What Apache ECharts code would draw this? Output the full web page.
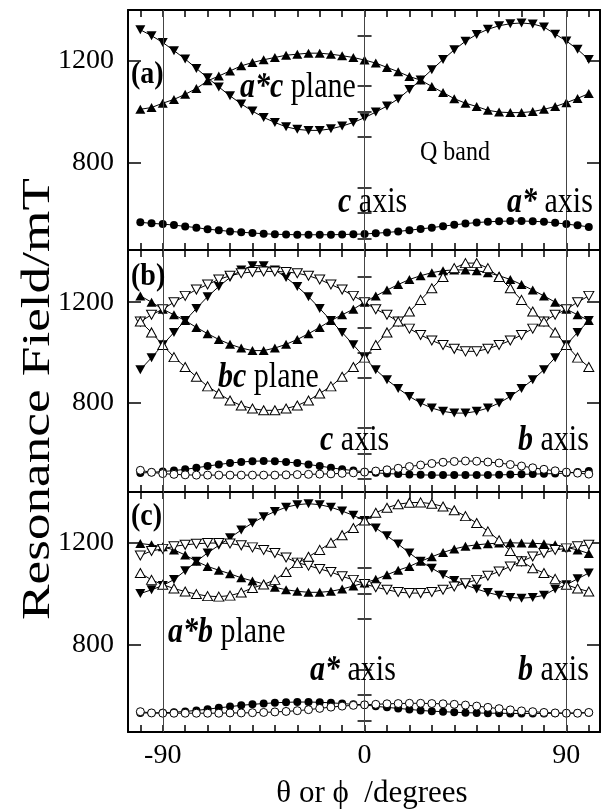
<!DOCTYPE html>
<html>
<head>
<meta charset="utf-8">
<script src="https://cdn.jsdelivr.net/npm/echarts@6/dist/echarts.min.js"></script>
<style>
html,body{margin:0;padding:0;background:#fff;}
#main{width:601px;height:811px;}
</style>
</head>
<body>
<div id="main"></div>
<script>
// rotation angle (degrees), one reading every 5 degrees
var angles = [-100,-95,-90,-85,-80,-75,-70,-65,-60,-55,-50,-45,-40,-35,-30,-25,-20,-15,-10,-5,0,
              5,10,15,20,25,30,35,40,45,50,55,60,65,70,75,80,85,90,95,100];

// (a) a*c plane
var aDown = [1322,1299,1272,1240,1207,1170,1133,1097,1062,1030,1002,977,957,940,930,926,926,932,943,957,976,
             998,1022,1050,1087,1124,1165,1205,1243,1277,1304,1324,1338,1346,1349,1345,1333,1305,1278,1245,1205];
var aUp = [1009,1016,1033,1048,1068,1091,1121,1140,1160,1180,1193,1204,1213,1222,1226,1230,1230,1226,1220,1213,1203,
           1191,1174,1157,1138,1124,1099,1075,1051,1033,1020,1005,998,996,996,1000,1009,1020,1035,1052,1071];
var aDot = [564,560,557,553,548,543,537,533,528,525,522,519,517,516,515,515,515,515,516,517,518,
            521,524,528,533,538,543,549,554,559,563,566,568,569,569,568,566,562,557,552,546];

// (b) bc plane
var bDown = [932,980,1031,1080,1127,1175,1222,1262,1298,1328,1345,1345,1328,1298,1262,1222,1175,1127,1080,1031,980,
             932,892,858,826,800,780,767,760,760,767,780,800,826,858,892,932,980,1031,1080,1127];
var bUp = [1225,1200,1172,1150,1127,1100,1075,1052,1033,1018,1008,1008,1018,1033,1052,1075,1100,1127,1150,1172,1200,
           1225,1248,1270,1290,1305,1317,1325,1328,1328,1325,1317,1305,1290,1270,1248,1225,1200,1172,1150,1127];
var bDownOpen = [1123,1150,1172,1200,1225,1250,1270,1290,1305,1315,1320,1322,1322,1320,1315,1305,1290,1270,1250,1225,1200,
                 1172,1150,1123,1095,1070,1048,1030,1015,1005,1005,1015,1030,1048,1070,1095,1123,1150,1172,1200,1225];
var bUpOpen = [1123,1080,1030,982,943,904,866,838,810,790,778,771,771,778,790,810,838,866,904,943,980,
               1030,1080,1123,1163,1209,1255,1300,1335,1355,1355,1335,1300,1255,1209,1163,1123,1080,1030,980,943];
var bDot = [522,525,528,532,537,543,550,556,562,566,569,570,569,566,562,556,550,543,537,532,527,
            523,520,518,516,515,514,514,514,514,514,514,515,516,517,518,519,520,522,526,530];
var bRing = [533,525,520,517,515,514,514,514,514,514,514,514,514,515,516,517,518,519,521,523,526,
             530,535,541,548,554,560,565,568,570,569,566,562,556,550,543,537,531,526,522,518];

// (c) a*b plane
var cDown = [1000,1015,1032,1055,1090,1127,1160,1190,1220,1250,1278,1303,1323,1340,1350,1354,1350,1340,1325,1308,1288,
             1258,1228,1195,1160,1127,1100,1074,1052,1034,1018,1004,993,985,982,985,993,1018,1035,1058,1081];
var cUp = [1197,1192,1184,1172,1152,1127,1107,1092,1078,1062,1050,1038,1025,1015,1009,1005,1005,1009,1018,1030,1042,
           1056,1074,1092,1107,1127,1145,1162,1176,1186,1192,1196,1199,1200,1199,1198,1196,1192,1182,1172,1158];
var cDownOpen = [1150,1168,1176,1186,1192,1196,1199,1199,1197,1190,1182,1172,1160,1142,1122,1110,1097,1085,1068,1054,1038,
                 1025,1015,1006,1002,1002,1006,1015,1028,1041,1054,1070,1087,1107,1127,1146,1160,1172,1178,1186,1192];
var cUpOpen = [1081,1054,1035,1020,1008,998,990,988,992,1004,1022,1036,1054,1085,1120,1145,1172,1200,1230,1258,1288,
               1318,1338,1352,1358,1359,1354,1343,1328,1305,1278,1245,1210,1168,1127,1100,1081,1058,1035,1020,1008];
var cDot = [530,530,531,533,536,540,545,550,555,560,564,567,570,572,573,573,572,570,567,564,562,
            556,552,548,544,540,537,535,533,531,530,529,529,528,528,528,528,529,529,530,531];
var cRing = [535,530,529,529,529,529,529,529,530,530,531,532,534,536,539,543,548,553,557,560,562,
             564,566,567,568,568,567,566,564,561,557,552,547,542,538,535,532,530,529,529,532];

// axis ticks and labels
var xTicks = [-100,-90,-80,-70,-60,-50,-40,-30,-20,-10,0,10,20,30,40,50,60,70,80,90,100];
var xLabels = [-90,0,90];
var guideAngles = [-90,0,90];
var yMajor = [800,1200];
var yMinor = [500,600,700,900,1000,1100,1300];

var FONT = 'Liberation Serif';
var STRETCH = 1.16;   // the scanned figure is a bit taller than it is wide
var panels = [
  {top:10,  height:240, min:455, max:1400},
  {top:250, height:242, min:447, max:1407},
  {top:492, height:240, min:455, max:1400}
];

var grids = [], xAxes = [], yAxes = [], series = [];

panels.forEach(function(p, i){
  grids.push({left:128, width:472, top:p.top, height:p.height, outerBoundsMode:'none'});
  ['bottom','top'].forEach(function(pos){
    var isTitleAxis = (i === 2 && pos === 'bottom');
    xAxes.push({
      gridIndex:i, type:'value', position:pos, min:-105.5, max:105,
      axisLine:{show:true, onZero:false, lineStyle:{color:'#000', width:2}},
      axisTick:{show:true, inside:true, length:7, customValues:xTicks, lineStyle:{color:'#000', width:1.5}},
      axisLabel:{show:isTitleAxis, customValues:xLabels, fontFamily:FONT, fontSize:28, color:'#000', margin:10,
                 formatter:function(v){ return String(v); }},
      splitLine:{show:false},
      name: isTitleAxis ? 'θ or ϕ  /degrees' : '',
      nameLocation:'middle', nameGap:46,
      nameTextStyle:{fontFamily:FONT + ', DejaVu Serif', fontSize:31, color:'#000', padding:[0,0,0,16]}
    });
  });
  ['left','right'].forEach(function(pos){
    yAxes.push({
      gridIndex:i, type:'value', position:pos, min:p.min, max:p.max,
      axisLine:{show:true, onZero:false, lineStyle:{color:'#000', width:2}},
      axisTick:{show:true, inside:true, length:13, customValues:yMajor, lineStyle:{color:'#000', width:1.5}},
      axisLabel:{show:pos === 'left', customValues:yMajor, fontFamily:FONT, fontSize:28, color:'#000', margin:14,
                 formatter:function(v){ return String(v); }},
      splitLine:{show:false}
    });
    yAxes.push({
      gridIndex:i, type:'value', position:pos, min:p.min, max:p.max,
      axisLine:{show:false},
      axisTick:{show:true, inside:true, length:7, customValues:yMinor, lineStyle:{color:'#000', width:1.5}},
      axisLabel:{show:false}, splitLine:{show:false}
    });
  });
});

function pts(vals){
  return angles.map(function(a, k){ return [a, vals[k]]; });
}

function mk(gi, vals, shape, filled, down){
  return {
    type:'line', xAxisIndex:gi*2, yAxisIndex:gi*4, data:pts(vals),
    symbol:shape, symbolSize: shape === 'circle' ? 8 : [10,9], symbolRotate: down ? 180 : 0,
    showAllSymbol:true,
    lineStyle:{color:'#000', width:1},
    itemStyle:{color: filled ? '#000' : '#fff', borderColor:'#000', borderWidth: filled ? 0 : 1},
    z:3
  };
}

var guides = {
  silent:true, symbol:'none', label:{show:false},
  lineStyle:{color:'#444', width:1, type:'solid'},
  data: guideAngles.map(function(v){ return {xAxis:v}; })
};

series.push(mk(0, aDown, 'triangle', true, true));
series.push(mk(0, aUp, 'triangle', true, false));
series.push(mk(0, aDot, 'circle', true, false));

series.push(mk(1, bDown, 'triangle', true, true));
series.push(mk(1, bUp, 'triangle', true, false));
series.push(mk(1, bDownOpen, 'triangle', false, true));
series.push(mk(1, bUpOpen, 'triangle', false, false));
series.push(mk(1, bDot, 'circle', true, false));
series.push(mk(1, bRing, 'circle', false, false));

series.push(mk(2, cDown, 'triangle', true, true));
series.push(mk(2, cUp, 'triangle', true, false));
series.push(mk(2, cDownOpen, 'triangle', false, true));
series.push(mk(2, cUpOpen, 'triangle', false, false));
series.push(mk(2, cDot, 'circle', true, false));
series.push(mk(2, cRing, 'circle', false, false));

[0, 3, 9].forEach(function(si){ series[si].markLine = guides; });

function note(x, y, text, size){
  size = size || 30;
  return {
    type:'text', x:x, y:y, z:10, scaleY:STRETCH,
    style:{
      text:text, fill:'#000', font: size + 'px "' + FONT + '"',
      verticalAlign:'middle', align:'left',
      rich:{
        b:{fontFamily:FONT, fontSize:size, fontWeight:'bold', fontStyle:'italic', fill:'#000'},
        n:{fontFamily:FONT, fontSize:size, fill:'#000'}
      }
    }
  };
}
function tag(x, y, text){
  return {
    type:'text', x:x, y:y, z:10, scaleY:STRETCH,
    style:{text:text, fill:'#000', font:'bold 28px "' + FONT + '"', verticalAlign:'middle', align:'left'}
  };
}

var graphics = [
  {
    type:'text', x:38, y:399, z:10, rotation:Math.PI / 2, scaleX:1.33,
    style:{text:'Resonance Field/mT', fill:'#000', font:'40px "' + FONT + '"', align:'center', verticalAlign:'middle'}
  },
  tag(131, 75, '(a)'),
  note(240, 88, '{b|a*c}{n| plane}'),
  note(420, 153, 'Q band', 24),
  note(338, 203, '{b|c}{n| axis}'),
  note(507, 203, '{b|a*}{n| axis}'),
  tag(131, 277, '(b)'),
  note(218, 378, '{b|bc}{n| plane}'),
  note(320, 441, '{b|c}{n| axis}'),
  note(518, 441, '{b|b}{n| axis}'),
  tag(131, 517, '(c)'),
  note(168, 633, '{b|a*b}{n| plane}'),
  note(310, 671, '{b|a*}{n| axis}'),
  note(518, 671, '{b|b}{n| axis}')
];

var chart = echarts.init(document.getElementById('main'));
chart.setOption({
  animation:false,
  backgroundColor:'#fff',
  grid:grids, xAxis:xAxes, yAxis:yAxes, series:series,
  graphic:graphics
});
</script>
</body>
</html>
